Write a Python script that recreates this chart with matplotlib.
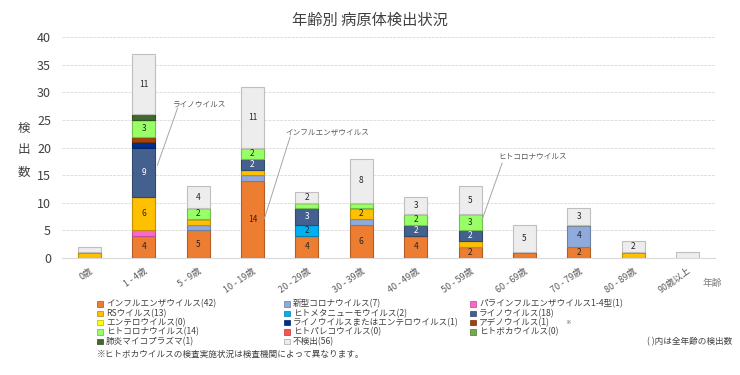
import numpy as np
import matplotlib
matplotlib.use('Agg')
import matplotlib.pyplot as plt
from matplotlib.patches import Rectangle
import matplotlib.colors as mcolors

plt.rcParams['font.family'] = ['Noto Sans CJK JP', 'DejaVu Sans']

# 年齢区分
ages = ['0歳', '1 - 4歳', '5 - 9歳', '10 - 19歳', '20 - 29歳', '30 - 39歳',
        '40 - 49歳', '50 - 59歳', '60 - 69歳', '70 - 79歳', '80 - 89歳', '90歳以上']

# 病原体ごとの検出数 (積み上げ順)
flu        = [0, 4, 5, 14, 4, 6, 4, 2, 1, 2, 0, 0]
covid      = [0, 0, 1, 1, 0, 1, 0, 0, 0, 4, 0, 0]
parainflu  = [0, 1, 0, 0, 0, 0, 0, 0, 0, 0, 0, 0]
rsv        = [1, 6, 1, 1, 0, 2, 0, 1, 0, 0, 1, 0]
hmpv       = [0, 0, 0, 0, 2, 0, 0, 0, 0, 0, 0, 0]
rhino      = [0, 9, 0, 2, 3, 0, 2, 2, 0, 0, 0, 0]
entero     = [0, 0, 0, 0, 0, 0, 0, 0, 0, 0, 0, 0]
rhino_ent  = [0, 1, 0, 0, 0, 0, 0, 0, 0, 0, 0, 0]
adeno      = [0, 1, 0, 0, 0, 0, 0, 0, 0, 0, 0, 0]
hcov       = [0, 3, 2, 2, 1, 1, 2, 3, 0, 0, 0, 0]
pareco     = [0, 0, 0, 0, 0, 0, 0, 0, 0, 0, 0, 0]
boca       = [0, 0, 0, 0, 0, 0, 0, 0, 0, 0, 0, 0]
myco       = [0, 1, 0, 0, 0, 0, 0, 0, 0, 0, 0, 0]
negative   = [1, 11, 4, 11, 2, 8, 3, 5, 5, 3, 2, 1]

series = [
    ('インフルエンザウイルス(42)', flu, '#ED7D31'),
    ('新型コロナウイルス(7)', covid, '#8FAADC'),
    ('パラインフルエンザウイルス1-4型(1)', parainflu, '#FF66CC'),
    ('RSウイルス(13)', rsv, '#FFC000'),
    ('ヒトメタニューモウイルス(2)', hmpv, '#00B0F0'),
    ('ライノウイルス(18)', rhino, '#44608F'),
    ('エンテロウイルス(0)', entero, '#FFFF00'),
    ('ライノウイルスまたはエンテロウイルス(1)', rhino_ent, '#002F8E'),
    ('アデノウイルス(1)', adeno, '#A0440E'),
    ('ヒトコロナウイルス(14)', hcov, '#99FF66'),
    ('ヒトパレコウイルス(0)', pareco, '#FF5050'),
    ('ヒトボカウイルス(0)', boca, '#70AD47'),
    ('肺炎マイコプラズマ(1)', myco, '#3F6A2A'),
    ('不検出(56)', negative, '#EDEDED'),
]
white_text = {'#44608F', '#002F8E', '#3F6A2A'}


def darker(c, f=0.75):
    r, g, b = mcolors.to_rgb(c)
    return (r * f, g * f, b * f)


fig = plt.figure(figsize=(7.4, 3.75), dpi=100)
ax = fig.add_axes([0.084, 0.312, 0.882, 0.589])

x = np.arange(len(ages))
bottom = np.zeros(len(ages))
for name, vals, col in series:
    vals = np.array(vals, dtype=float)
    edge = '#BFBFBF' if col == '#EDEDED' else darker(col)
    ax.bar(x, vals, 0.42, bottom=bottom, color=col, edgecolor=edge, linewidth=0.8, zorder=3)
    for i, v in enumerate(vals):
        if v >= 2:
            tc = 'white' if col in white_text else '#262626'
            ax.text(x[i], bottom[i] + v / 2, str(int(v)), ha='center', va='center',
                    fontsize=6, color=tc, zorder=4)
    bottom += vals

ax.set_xlim(-0.5, len(ages) - 0.5)
ax.set_ylim(0, 40)
ax.set_yticks(range(0, 41, 5))
ax.tick_params(axis='y', length=0, labelsize=9, colors='#404040', pad=8)
ax.set_xticks(x)
ax.set_xticklabels(ages, rotation=35, ha='right', rotation_mode='anchor',
                   fontsize=6.5, color='#595959')
ax.tick_params(axis='x', length=0, pad=6)
ax.grid(axis='y', color='#E0E0E0', linewidth=0.7, linestyle=(0, (3, 1)), zorder=0)
for s in ['top', 'right', 'left']:
    ax.spines[s].set_visible(False)
ax.spines['bottom'].set_color('#D9D9D9')

# 注釈
notes = [
    ('ライノウイルス', (1.25, 16.8), (1.62, 27.1), (1.53, 27.7)),
    ('インフルエンザウイルス', (3.22, 7.2), (3.69, 21.9), (3.60, 22.8)),
    ('ヒトコロナウイルス', (7.22, 6.9), (7.59, 17.2), (7.52, 18.3)),
]
for label, p0, p1, pt in notes:
    ax.plot([p0[0], p1[0]], [p0[1], p1[1]], color='#A6A6A6', linewidth=0.7, zorder=5)
    ax.text(pt[0], pt[1], label, fontsize=5.5, color='#595959', ha='left', va='center', zorder=5)

fig.text(0.5, 0.947, '年齢別 病原体検出状況', ha='center', va='center', fontsize=11, color='#404040')
fig.text(0.032, 0.6, '検\n出\n数', ha='center', va='center', fontsize=9,
         color='#404040', linespacing=1.9)
fig.text(0.962, 0.245, '年齢', ha='center', va='center', fontsize=7, color='#808080')

# 凡例 (3列)
col_x = [100, 287, 473]
row_y = [304, 313.3, 322.6, 331.9, 341.2]
cols = [
    [0, 3, 6, 9, 12],
    [1, 4, 7, 10, 13],
    [2, 5, 8, 11],
]
W, H = 740.0, 375.0
for c, idxs in enumerate(cols):
    for r, k in enumerate(idxs):
        name, vals, col = series[k]
        px, py = col_x[c], row_y[r]
        edge = '#A6A6A6' if col == '#EDEDED' else darker(col, 0.7)
        fig.patches.append(Rectangle((px / W - 2.6 / W, 1 - (py + 2.6) / H), 5.2 / W, 5.2 / H,
                                     transform=fig.transFigure, facecolor=col,
                                     edgecolor=edge, linewidth=0.5))
        fig.text((px + 6) / W, 1 - py / H, name, fontsize=6.2, color='#404040',
                 ha='left', va='center')

fig.text(565 / W, 1 - 323 / H, '※', fontsize=4, color='#595959', ha='left', va='center')
fig.text(732 / W, 1 - 342 / H, '( )内は全年齢の検出数', fontsize=6.2, color='#404040',
         ha='right', va='center')
fig.text(97 / W, 1 - 354 / H, '※ヒトボカウイルスの検査実施状況は検査機関によって異なります。',
         fontsize=6.2, color='#404040', ha='left', va='center')

fig.savefig('out.png', dpi=100)
